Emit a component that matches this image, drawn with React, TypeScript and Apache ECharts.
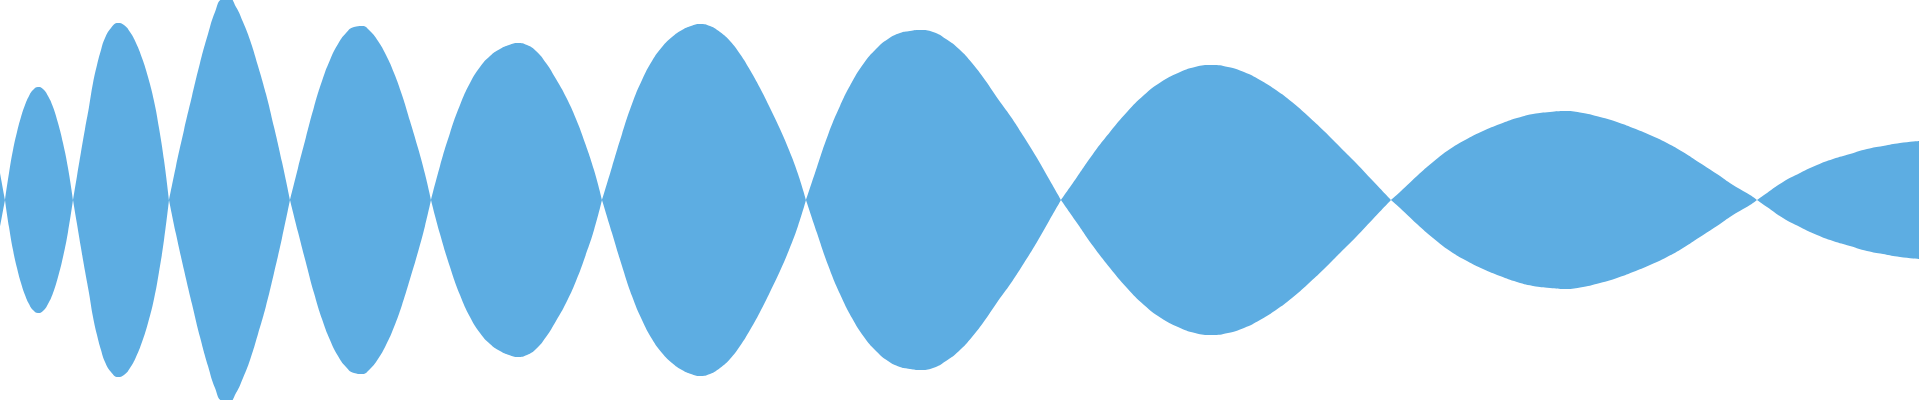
import { useEffect, useRef } from 'react';
import * as echarts from 'echarts';

const FILL = '#5DADE2';

// Envelope samples: [x, amplitude] pairs per lobe.
// Each lobe starts and ends on a zero crossing; the shape is mirrored below 0.
const lobe0 = [[0, 27], [5, 0]];
const lobe1 = [
  [5, 0], [9, 27], [13, 50], [17, 68], [21, 83], [25, 95], [29, 104], [33, 110],
  [38, 113], [43, 111], [48, 104], [53, 93], [58, 77], [63, 57], [68, 32], [73, 0],
];
const lobe2 = [
  [73, 0], [77, 24], [81, 48], [85, 71], [89, 93], [93, 117], [97, 135], [101, 150],
  [105, 162], [111, 172], [118, 177], [124, 175], [130, 168], [136, 157], [142, 142],
  [148, 123], [154, 99], [159, 72], [164, 40], [169, 0],
];
const lobe3 = [
  [169, 0], [176, 34], [184, 70], [192, 104], [200, 137], [208, 166], [215, 188],
  [222, 201], [229, 202], [236, 193], [243, 178], [250, 160], [258, 134], [266, 106],
  [274, 73], [282, 38], [290, 0],
];
const lobe4 = [
  [290, 0], [298, 32], [306, 63], [314, 93], [322, 119], [330, 140], [338, 156],
  [346, 167], [354, 173], [362, 174], [370, 169], [378, 159], [386, 145], [394, 127],
  [402, 105], [410, 79], [418, 52], [425, 26], [431, 0],
];
const lobe5 = [
  [431, 0], [440, 34], [450, 67], [460, 95], [470, 117], [480, 133], [490, 144],
  [500, 151], [509, 155], [518, 157], [527, 155], [536, 149], [546, 137], [556, 121],
  [566, 103], [576, 81], [585, 57], [594, 30], [602, 0],
];
const lobe6 = [
  [602, 0], [612, 33], [622, 66], [632, 96], [642, 120], [652, 139], [662, 153],
  [672, 163], [682, 170], [691, 174], [700, 176], [710, 174], [720, 168], [730, 159],
  [740, 146], [750, 130], [760, 112], [770, 92], [780, 71], [789, 50], [798, 26],
  [806, 0],
];
const lobe7 = [
  [806, 0], [817, 33], [828, 65], [840, 94], [852, 118], [864, 137], [876, 151],
  [888, 161], [900, 167], [910, 169], [920, 170], [933, 168], [946, 161], [959, 151],
  [972, 137], [985, 120], [998, 101], [1011, 83], [1024, 63], [1037, 42], [1049, 21],
  [1061, 0],
];
const lobe8 = [
  [1061, 0], [1077, 23], [1093, 46], [1110, 68], [1127, 88], [1144, 105], [1161, 118],
  [1178, 127], [1195, 133], [1212, 135], [1228, 133], [1244, 128], [1260, 120],
  [1276, 110], [1292, 98], [1308, 84], [1324, 69], [1340, 53], [1356, 37], [1373, 19],
  [1391, 0],
];
const lobe9 = [
  [1391, 0], [1400, 8], [1417, 24], [1433, 38], [1450, 51], [1467, 61], [1483, 69],
  [1500, 76], [1517, 82], [1533, 86], [1550, 88], [1565, 89], [1583, 87], [1600, 83],
  [1617, 78], [1633, 72], [1650, 65], [1667, 57], [1683, 48], [1700, 37], [1717, 26],
  [1733, 15], [1750, 5], [1757, 0],
];
const lobe10 = [
  [1757, 0], [1767, 7], [1783, 18], [1800, 27], [1817, 35], [1833, 41], [1850, 46],
  [1867, 51], [1883, 54], [1900, 57], [1919, 59],
];

const lobes = [lobe0, lobe1, lobe2, lobe3, lobe4, lobe5, lobe6, lobe7, lobe8, lobe9, lobe10];

// join the lobes with a null so the line breaks (and stays pointed) at each crossing
const buildSeries = (sign: number) =>
  lobes.flatMap((lobe, i) => {
    const pts: (number | null)[][] = lobe.map(([x, a]) => [x, sign * a]);
    if (i < lobes.length - 1) pts.push([lobe[lobe.length - 1][0], null]);
    return pts;
  });

export default function App() {
  const chartRef = useRef<HTMLDivElement>(null);

  useEffect(() => {
    if (!chartRef.current) return;
    document.body.style.margin = '0';

    const chart = echarts.init(chartRef.current, null, { renderer: 'svg' });

    const areaSeries = (name: string, sign: number) => ({
      name,
      type: 'line',
      data: buildSeries(sign),
      smooth: 0.5,
      symbol: 'none',
      connectNulls: false,
      lineStyle: { width: 0, opacity: 0 },
      areaStyle: { color: FILL, opacity: 1 },
      emphasis: { disabled: true },
      silent: true,
    });

    const option: echarts.EChartsOption = {
      backgroundColor: '#ffffff',
      animation: false,
      grid: { left: 0, right: 0, top: 0, bottom: 0, containLabel: false },
      xAxis: {
        type: 'value',
        min: 0,
        max: 1920,
        show: false,
        splitLine: { show: false },
      },
      yAxis: {
        type: 'value',
        min: -200,
        max: 200,
        show: false,
        splitLine: { show: false },
      },
      series: [areaSeries('upper', 1), areaSeries('lower', -1)] as any,
    };

    chart.setOption(option);

    return () => {
      chart.dispose();
    };
  }, []);

  return <div ref={chartRef} style={{ width: 1920, height: 400 }} />;
}
